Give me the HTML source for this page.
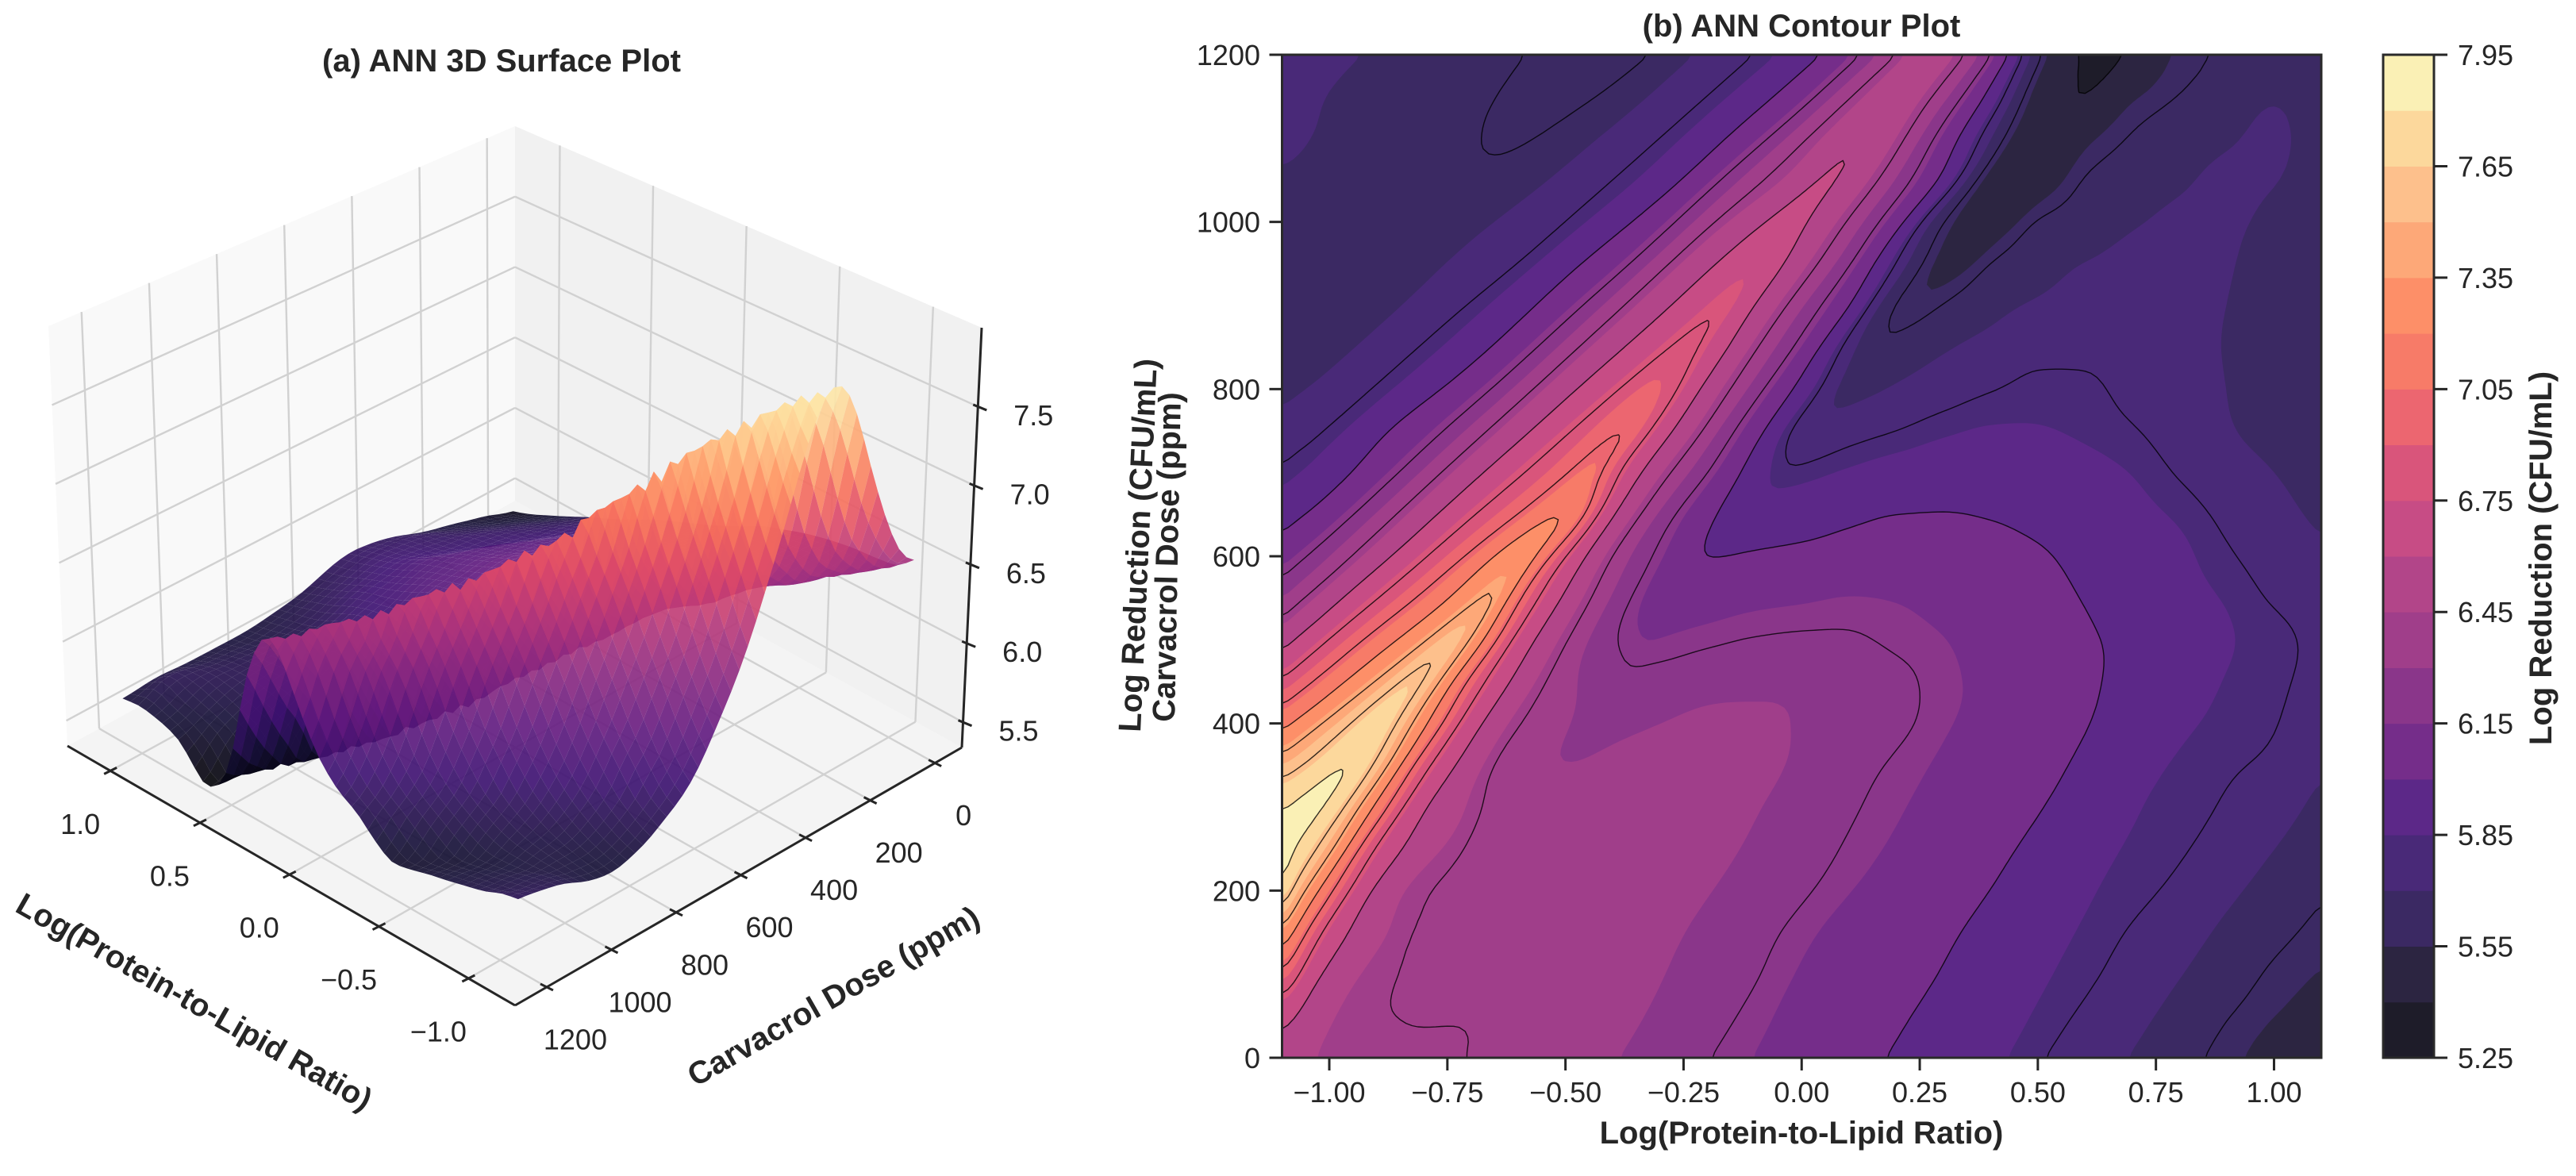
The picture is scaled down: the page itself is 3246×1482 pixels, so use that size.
<!DOCTYPE html>
<html lang="en">
<head>
<meta charset="utf-8">
<title>ANN surface and contour plots</title>
<style>
html,body{margin:0;padding:0;background:#fff;width:3246px;height:1482px;overflow:hidden}
svg{display:block}
text{font-family:"Liberation Sans",Arial,sans-serif;fill:#262626}
.tick{font-size:36px}
.bold{font-size:40px;font-weight:bold}
</style>
</head>
<body>
<svg id="fig" xmlns="http://www.w3.org/2000/svg" width="3246" height="1482" viewBox="0 0 3246 1482">
  <rect width="3246" height="1482" fill="#fff"/>
  <g id="panelA"></g>
  <g id="panelB"></g>
  <g id="panelC"></g>
  <text class="bold" x="632" y="90" text-anchor="middle">(a) ANN 3D Surface Plot</text>
  <text class="bold" x="2270" y="46" text-anchor="middle">(b) ANN Contour Plot</text>
  <text class="bold" text-anchor="middle" transform="translate(245,1262) rotate(29.8)" dy="14">Log(Protein-to-Lipid Ratio)</text>
  <text class="bold" text-anchor="middle" transform="translate(1050,1255) rotate(-29.7)" dy="14">Carvacrol Dose (ppm)</text>
  <text class="bold" x="2270" y="1441" text-anchor="middle">Log(Protein-to-Lipid Ratio)</text>
  <text class="bold" transform="translate(1437,923) rotate(-87.46)">Log Reduction (CFU/mL)</text>
  <text class="bold" transform="translate(1480,910) rotate(-88.9)">Carvacrol Dose (ppm)</text>
  <text class="bold" transform="translate(3215,939) rotate(-90)">Log Reduction (CFU/mL)</text>
</svg>
<script>
// ---------- data ----------
const ratioValues = [-1.1,-1.0,-0.9,-0.8,-0.7,-0.6,-0.5,-0.4,-0.3,-0.2,-0.1,0,0.1,0.2,0.3,0.4,0.5,0.6,0.7,0.8,0.9,1.0,1.1];
const doseValues = [0,50,100,150,200,250,300,350,400,450,500,550,600,650,700,750,800,850,900,950,1000,1050,1100,1150,1200];
const logReduction = [
[6.50,6.44,6.43,6.42,6.40,6.375,6.345,6.305,6.27,6.205,6.15,6.09,6.04,5.99,5.94,5.875,5.81,5.75,5.695,5.63,5.565,5.50,5.45],
[6.66,6.46,6.405,6.39,6.395,6.385,6.36,6.33,6.285,6.24,6.175,6.115,6.065,6.015,5.965,5.90,5.84,5.785,5.73,5.665,5.605,5.555,5.505],
[6.97,6.55,6.42,6.39,6.39,6.39,6.37,6.345,6.305,6.26,6.21,6.14,6.085,6.04,5.995,5.925,5.865,5.82,5.76,5.705,5.645,5.585,5.545],
[7.36,6.72,6.49,6.39,6.39,6.39,6.38,6.36,6.32,6.28,6.23,6.17,6.11,6.07,6.02,5.96,5.89,5.84,5.79,5.74,5.68,5.625,5.575],
[7.77,7.05,6.56,6.40,6.385,6.39,6.385,6.37,6.34,6.305,6.26,6.215,6.155,6.10,6.05,6.00,5.93,5.86,5.825,5.78,5.72,5.665,5.61],
[7.93,7.46,6.77,6.515,6.39,6.35,6.355,6.385,6.365,6.335,6.285,6.24,6.19,6.135,6.08,6.03,5.97,5.89,5.84,5.81,5.755,5.70,5.635],
[7.79,7.76,7.15,6.61,6.44,6.33,6.33,6.36,6.375,6.36,6.305,6.27,6.215,6.16,6.115,6.065,6.01,5.93,5.855,5.835,5.79,5.745,5.67],
[7.50,7.73,7.57,6.86,6.51,6.32,6.30,6.32,6.345,6.35,6.33,6.285,6.235,6.185,6.135,6.08,6.03,5.98,5.885,5.84,5.81,5.785,5.715],
[7.13,7.45,7.69,7.25,6.68,6.41,6.31,6.28,6.30,6.32,6.32,6.29,6.255,6.225,6.165,6.10,6.05,6.01,5.92,5.865,5.835,5.805,5.75],
[6.82,7.10,7.41,7.60,6.93,6.55,6.33,6.245,6.24,6.27,6.28,6.28,6.265,6.23,6.17,6.125,6.07,6.02,5.96,5.89,5.845,5.815,5.77],
[6.52,6.81,7.08,7.37,7.39,6.73,6.41,6.21,6.15,6.18,6.205,6.215,6.21,6.18,6.155,6.105,6.055,6.015,5.975,5.915,5.86,5.825,5.78],
[6.29,6.53,6.79,7.04,7.33,7.02,6.57,6.29,6.10,6.10,6.125,6.14,6.16,6.15,6.115,6.08,6.04,5.995,5.935,5.88,5.845,5.79,5.76],
[6.10,6.30,6.52,6.78,7.04,7.31,6.78,6.39,6.17,6.00,6.015,6.035,6.055,6.07,6.07,6.06,6.025,5.96,5.91,5.87,5.81,5.76,5.72],
[5.92,6.09,6.31,6.53,6.78,7.00,7.17,6.62,6.28,6.04,5.905,5.93,5.975,6.005,6.01,5.99,5.95,5.90,5.875,5.84,5.78,5.73,5.68],
[5.81,5.92,6.10,6.32,6.54,6.77,6.98,6.84,6.46,6.21,5.93,5.82,5.86,5.895,5.91,5.915,5.90,5.88,5.85,5.79,5.735,5.70,5.66],
[5.74,5.81,5.97,6.12,6.33,6.54,6.77,6.99,6.70,6.37,6.07,5.74,5.765,5.80,5.84,5.86,5.855,5.835,5.805,5.755,5.705,5.675,5.645],
[5.67,5.73,5.81,5.94,6.11,6.33,6.55,6.76,6.91,6.54,6.26,5.95,5.675,5.71,5.755,5.795,5.82,5.815,5.775,5.74,5.70,5.66,5.63],
[5.63,5.67,5.73,5.81,5.93,6.11,6.34,6.55,6.75,6.74,6.42,6.15,5.74,5.63,5.69,5.73,5.775,5.78,5.76,5.725,5.695,5.65,5.625],
[5.60,5.63,5.67,5.73,5.81,5.94,6.12,6.35,6.55,6.75,6.59,6.31,6.02,5.58,5.61,5.67,5.71,5.735,5.74,5.725,5.70,5.665,5.625],
[5.61,5.63,5.65,5.68,5.73,5.80,5.95,6.115,6.36,6.56,6.73,6.49,6.22,5.80,5.52,5.61,5.66,5.705,5.72,5.72,5.705,5.67,5.625],
[5.64,5.645,5.65,5.66,5.68,5.73,5.80,5.93,6.12,6.37,6.55,6.62,6.38,6.07,5.58,5.48,5.62,5.65,5.695,5.715,5.71,5.68,5.625],
[5.69,5.675,5.64,5.625,5.62,5.66,5.725,5.80,5.91,6.13,6.37,6.50,6.55,6.30,5.98,5.50,5.46,5.61,5.65,5.69,5.72,5.705,5.63],
[5.72,5.69,5.66,5.63,5.605,5.585,5.65,5.725,5.80,5.93,6.13,6.38,6.55,6.45,6.12,5.70,5.43,5.53,5.61,5.65,5.69,5.725,5.635],
[5.74,5.695,5.67,5.645,5.62,5.585,5.57,5.625,5.725,5.80,5.93,6.12,6.39,6.52,6.33,5.95,5.505,5.405,5.545,5.605,5.64,5.695,5.625],
[5.76,5.73,5.685,5.655,5.625,5.60,5.57,5.545,5.62,5.73,5.80,5.92,6.14,6.40,6.50,6.22,5.60,5.37,5.41,5.555,5.605,5.615,5.62]
];
// ridge crest and trough floor, read row by row between the grid columns
const crestDose = [300,350,400,450,500,550,600,650,700,750,800,850,900,950,1000,1050,1100,1150,1200];
const crestRatio = [-1.05,-0.963,-0.90,-0.82,-0.74,-0.66,-0.595,-0.51,-0.45,-0.372,-0.33,-0.248,-0.165,-0.11,-0.03,0.048,0.125,0.19,0.255];
const crestValue = [7.88,7.82,7.73,7.67,7.58,7.45,7.33,7.22,7.09,7.01,6.93,6.85,6.80,6.74,6.68,6.63,6.60,6.53,6.51];
const troughDose = [350,400,450,500,550,600,650,700,750,800,850,900,950,1000,1050,1100,1150,1200];
const troughRatio = [-0.50,-0.43,-0.38,-0.32,-0.26,-0.19,-0.115,-0.03,0.03,0.10,0.17,0.25,0.33,0.40,0.47,0.53,0.60,0.64];
const troughValue = [6.30,6.275,6.23,6.14,6.09,5.995,5.90,5.81,5.73,5.665,5.61,5.565,5.51,5.47,5.44,5.415,5.40,5.36];
const bandLevels = [5.25,5.40,5.55,5.70,5.85,6.00,6.15,6.30,6.45,6.60,6.75,6.90,7.05,7.20,7.35,7.50,7.65,7.80,7.95];
const lineLevels = [5.4,5.6,5.8,6.0,6.2,6.4,6.6,6.8,7.0,7.2,7.4,7.6,7.8];
const contourXTicks = [-1.0,-0.75,-0.5,-0.25,0,0.25,0.5,0.75,1.0];
const contourXTickLabels = ["\u22121.00","\u22120.75","\u22120.50","\u22120.25","0.00","0.25","0.50","0.75","1.00"];
const contourYTicks = [0,200,400,600,800,1000,1200];
const colorbarTicks = [5.25,5.55,5.85,6.15,6.45,6.75,7.05,7.35,7.65,7.95];
const surfaceXTicks = [-1.0,-0.5,0,0.5,1.0];
const surfaceXTickLabels = ["\u22121.0","\u22120.5","0.0","0.5","1.0"];
const surfaceYTicks = [0,200,400,600,800,1000,1200];
const surfaceZTicks = [5.5,6.0,6.5,7.0,7.5];

// ---------- palettes ----------
const bandPalette = ["#1e1c29","#2c2541","#3b2963","#492978","#5c2888","#752d8a","#8a368a","#a03e8a","#b24589","#c74c85","#d9557b","#ec6670","#f77b68","#fd8f68","#fda878","#fdc08c","#fcd89c","#faf0b5"];
const magmaStops = ["#000004","#140e36","#3b0f70","#641a80","#8c2981","#b73779","#de4968","#f7705c","#fe9f6d","#fecf92","#fcf0b0"];

const NS = "http://www.w3.org/2000/svg";
function mk(parent, tag, attrs, txt){
  const el = document.createElementNS(NS, tag);
  for (const k in attrs) el.setAttribute(k, attrs[k]);
  if (txt !== undefined) el.textContent = txt;
  parent.appendChild(el);
  return el;
}

// ---------- interpolation of the value grid ----------
function cubic(p0,p1,p2,p3,t){
  return p1 + 0.5*t*(p2-p0 + t*(2*p0-5*p1+4*p2-p3 + t*(3*(p1-p2)+p3-p0)));
}
const colCount = ratioValues.length, rowCount = doseValues.length;
const yStep = doseValues[1]-doseValues[0];
function lookup(xs, ys, x){
  const n=xs.length;
  if(x<=xs[0]) return ys[0]+(x-xs[0])*(ys[1]-ys[0])/(xs[1]-xs[0]);
  if(x>=xs[n-1]) return ys[n-1]+(x-xs[n-1])*(ys[n-1]-ys[n-2])/(xs[n-1]-xs[n-2]);
  let i=0; while(xs[i+1]<x) i++;
  return ys[i]+(x-xs[i])*(ys[i+1]-ys[i])/(xs[i+1]-xs[i]);
}
// per-row monotone spline through the grid columns plus that row's crest and trough
const rowSplines = doseValues.map((dose,r)=>{
  const nodes = ratioValues.map((x,i)=>[x,logReduction[r][i]]);
  function insert(x,z){
    let k=nodes.findIndex(n=>Math.abs(n[0]-x)<0.012);
    if(k>=0){ nodes[k][1]=z; return; }
    k=nodes.findIndex(n=>n[0]>x);
    if(k>0) nodes.splice(k,0,[x,z]);
  }
  let c=crestDose.indexOf(dose); if(c>=0) insert(crestRatio[c],crestValue[c]);
  let t=troughDose.indexOf(dose); if(t>=0) insert(troughRatio[t],troughValue[t]);
  const xs=nodes.map(n=>n[0]), zs=nodes.map(n=>n[1]), n=xs.length;
  const h=[],s=[]; for(let i=0;i<n-1;i++){ h.push(xs[i+1]-xs[i]); s.push((zs[i+1]-zs[i])/h[i]); }
  const m=new Array(n).fill(0);
  m[0]=s[0]; m[n-1]=s[n-2];
  for(let i=1;i<n-1;i++){
    if(s[i-1]*s[i]>0){
      const w1=2*h[i]+h[i-1], w2=h[i]+2*h[i-1];
      m[i]=(w1+w2)/(w1/s[i-1]+w2/s[i]);
    }
  }
  return {xs:xs,zs:zs,m:m,h:h,n:n};
});
function rowValue(r, x){
  r = Math.max(0, Math.min(rowCount-1, r));
  const sp=rowSplines[r];
  if(x<=sp.xs[0]) return sp.zs[0];
  if(x>=sp.xs[sp.n-1]) return sp.zs[sp.n-1];
  let i=0; while(sp.xs[i+1]<x) i++;
  const t=(x-sp.xs[i])/sp.h[i], t2=t*t, t3=t2*t;
  return (2*t3-3*t2+1)*sp.zs[i]+(t3-2*t2+t)*sp.h[i]*sp.m[i]+(-2*t3+3*t2)*sp.zs[i+1]+(t3-t2)*sp.h[i]*sp.m[i+1];
}
function smooth(t){ t = Math.max(0,Math.min(1,t)); return t*t*(3-2*t); }
function leanAt(x,y){
  // how far features slide in x per grid row: they follow the diagonal ridge
  const d=x-lookup(crestDose,crestRatio,y);
  let lean=0.1+(0.0575-0.1)*smooth((d+0.08)/0.16);
  lean*=smooth((x-ratioValues[0])/0.1)*(1-smooth((x-0.7)/0.3));
  const right=smooth((x-lookup(troughDose,troughRatio,y))/0.15)*smooth((y-400)/100);
  return lean*(1-right);
}
function sampleZ(x, y){
  const lean=leanAt(x,y);
  const v = (y-doseValues[0])/yStep;
  const r = Math.min(rowCount-2, Math.floor(v)), t = v-r;
  const p = k => rowValue(k, x + (k-v)*lean);
  const a = r>0 ? p(r-1) : p(r), b = p(r), c = p(r+1), d = r<rowCount-2 ? p(r+2) : p(r+1);
  const z = cubic(a,b,c,d,t);
  return Math.max(Math.min(b,c)-0.04, Math.min(Math.max(b,c)+0.04, z));
}
function sampleAlong(x,y){
  // average along the local ridge direction to even out reading noise
  const lean=leanAt(x,y)/yStep, wts=[1,2,3,2,1];
  let s=0,w=0;
  for(let k=-2;k<=2;k++){
    const dy=k*16, yy=y+dy;
    if(yy<doseValues[0]||yy>doseValues[rowCount-1]) continue;
    s+=wts[k+2]*sampleZ(x+dy*lean,yy); w+=wts[k+2];
  }
  return s/w;
}
const xMin=ratioValues[0], xMax=ratioValues[colCount-1], yMin=doseValues[0], yMax=doseValues[rowCount-1];
const fineCols=177, fineRows=193;
const fine=(function(){
  let g=new Float64Array(fineCols*fineRows);
  for(let j=0;j<fineRows;j++) for(let i=0;i<fineCols;i++){
    g[j*fineCols+i]=sampleAlong(xMin+(xMax-xMin)*i/(fineCols-1), yMin+(yMax-yMin)*j/(fineRows-1));
  }
  for(let pass=0;pass<2;pass++){
    const o=new Float64Array(fineCols*fineRows);
    for(let j=0;j<fineRows;j++) for(let i=0;i<fineCols;i++){
      let s=0,w=0;
      for(let dj=-1;dj<=1;dj++) for(let di=-1;di<=1;di++){
        const ii=i+di, jj=j+dj;
        if(ii<0||jj<0||ii>=fineCols||jj>=fineRows) continue;
        const q=(di===0?2:1)*(dj===0?2:1);
        s+=q*g[jj*fineCols+ii]; w+=q;
      }
      o[j*fineCols+i]=s/w;
    }
    g=o;
  }
  return g;
})();
function zAt(x,y){
  const u=Math.max(0,Math.min(fineCols-1.001,(x-xMin)/(xMax-xMin)*(fineCols-1)));
  const v=Math.max(0,Math.min(fineRows-1.001,(y-yMin)/(yMax-yMin)*(fineRows-1)));
  const i=Math.floor(u),j=Math.floor(v),a=u-i,b=v-j;
  return (1-a)*(1-b)*fine[j*fineCols+i]+a*(1-b)*fine[j*fineCols+i+1]+a*b*fine[(j+1)*fineCols+i+1]+(1-a)*b*fine[(j+1)*fineCols+i];
}

// ---------- contour tracing ----------
function traceContours(vals, cols, rows, level, xOf, yOf){
  const adj = new Map(), pts = new Map();
  const id = (i,j,k) => 2*(j*cols+i)+k;
  function pt(e, i, j, k){
    if (pts.has(e)) return;
    const a = vals[j*cols+i];
    const b = k===0 ? vals[j*cols+i+1] : vals[(j+1)*cols+i];
    const t = (level-a)/(b-a);
    if (k===0) pts.set(e,[xOf(i)+(xOf(i+1)-xOf(i))*t, yOf(j)]);
    else pts.set(e,[xOf(i), yOf(j)+(yOf(j+1)-yOf(j))*t]);
  }
  function link(p,q){
    if(!adj.has(p)) adj.set(p,[]);
    if(!adj.has(q)) adj.set(q,[]);
    adj.get(p).push(q); adj.get(q).push(p);
  }
  for (let j=0;j<rows-1;j++) for (let i=0;i<cols-1;i++){
    const a=vals[j*cols+i], b=vals[j*cols+i+1], c=vals[(j+1)*cols+i+1], d=vals[(j+1)*cols+i];
    const n=(a>=level?1:0)|(b>=level?2:0)|(c>=level?4:0)|(d>=level?8:0);
    if(n===0||n===15) continue;
    const T=id(i,j,0), R=id(i+1,j,1), B=id(i,j+1,0), L=id(i,j,1);
    if((n&1)!==((n&2)>>1)) pt(T,i,j,0);
    if(((n&2)>>1)!==((n&4)>>2)) pt(R,i+1,j,1);
    if(((n&8)>>3)!==((n&4)>>2)) pt(B,i,j+1,0);
    if((n&1)!==((n&8)>>3)) pt(L,i,j,1);
    switch(n){
      case 1: case 14: link(L,T); break;
      case 2: case 13: link(T,R); break;
      case 3: case 12: link(L,R); break;
      case 4: case 11: link(R,B); break;
      case 6: case 9: link(T,B); break;
      case 7: case 8: link(L,B); break;
      case 5: if((a+b+c+d)/4>=level){link(L,B);link(T,R);}else{link(L,T);link(R,B);} break;
      case 10: if((a+b+c+d)/4>=level){link(L,T);link(R,B);}else{link(T,R);link(L,B);} break;
    }
  }
  const used=new Set(); let out="";
  function walk(start){
    let cur=start, prev=-1, s="M"+pts.get(cur)[0].toFixed(1)+" "+pts.get(cur)[1].toFixed(1);
    used.add(cur);
    while(true){
      const nb=adj.get(cur);
      let nx=-1;
      for(const q of nb){ if(q!==prev && !used.has(q)){nx=q;break;} }
      if(nx<0){
        if(nb.indexOf(start)>=0 && prev!==start) s+="Z";
        break;
      }
      s+="L"+pts.get(nx)[0].toFixed(1)+" "+pts.get(nx)[1].toFixed(1);
      used.add(nx); prev=cur; cur=nx;
    }
    out+=s;
  }
  for(const [k,v] of adj){ if(v.length===1 && !used.has(k)) walk(k); }
  for(const [k] of adj){ if(!used.has(k)) walk(k); }
  return out;
}

// ---------- panel (b): contour plot ----------
const plotLeft=1615.5, plotRight=2925, plotTop=69, plotBottom=1333;
function cx(x){ return plotLeft+(x-xMin)/(xMax-xMin)*(plotRight-plotLeft); }
function cy(y){ return plotBottom-(y-yMin)/(yMax-yMin)*(plotBottom-plotTop); }

(function(){
  const g=document.getElementById("panelB");
  const nx=fineCols, ny=fineRows;
  const hx=(plotRight-plotLeft)/(nx-1), hy=(plotBottom-plotTop)/(ny-1);
  const PW=nx+2, PH=ny+2;
  const padded=new Float64Array(PW*PH).fill(-1e9);
  for(let j=0;j<ny;j++) for(let i=0;i<nx;i++) padded[(j+1)*PW+i+1]=fine[j*nx+i];
  const pxp=i=>plotLeft+(i-1)*hx, pyp=j=>plotBottom-(j-1)*hy;
  const base=mk(g,"rect",{x:plotLeft,y:plotTop,width:plotRight-plotLeft,height:plotBottom-plotTop,fill:bandPalette[0]});
  
  
  for(let b=1;b<bandPalette.length;b++){
    const d=traceContours(padded,PW,PH,bandLevels[b],pxp,pyp);
    if(!d) continue;
    const p=mk(g,"path",{d:d,fill:bandPalette[b],"fill-rule":"evenodd",stroke:"none"});
    
    
  }
  const px=i=>plotLeft+i*hx, py=j=>plotBottom-j*hy;
  for(const lv of lineLevels){
    const d=traceContours(fine,nx,ny,lv,px,py);
    if(!d) continue;
    const p=mk(g,"path",{d:d,fill:"none",stroke:"#000","stroke-opacity":"0.8","stroke-width":"1.4","stroke-linejoin":"round"});
    
    
  }
  const frame=mk(g,"rect",{x:plotLeft,y:plotTop,width:plotRight-plotLeft,height:plotBottom-plotTop,fill:"none",stroke:"#2a2a2a","stroke-width":"3"});
  
  
  contourXTicks.forEach((v,i)=>{
    const t=mk(g,"line",{x1:cx(v),x2:cx(v),y1:plotBottom,y2:plotBottom+16,stroke:"#262626","stroke-width":"3"});
    
    
    const l=mk(g,"text",{class:"tick",x:cx(v),y:1389,"text-anchor":"middle"},contourXTickLabels[i]);
    
    
  });
  contourYTicks.forEach(v=>{
    const t=mk(g,"line",{x1:plotLeft-16,x2:plotLeft,y1:cy(v),y2:cy(v),stroke:"#262626","stroke-width":"3"});
    
    
    const l=mk(g,"text",{class:"tick",x:1588,y:cy(v)+13,"text-anchor":"end"},String(v));
    
    
  });
})();

// ---------- colorbar ----------
(function(){
  const g=document.getElementById("panelC");
  const left=3003,right=3067,top=69,bottom=1333;
  const lo=bandLevels[0], hi=bandLevels[bandLevels.length-1];
  const by=v=>bottom-(v-lo)/(hi-lo)*(bottom-top);
  bandPalette.forEach((c,i)=>{
    const r=mk(g,"rect",{x:left,y:by(bandLevels[i+1]),width:right-left,height:by(bandLevels[i])-by(bandLevels[i+1])+0.5,fill:c});
    
    
  });
  const f=mk(g,"rect",{x:left,y:top,width:right-left,height:bottom-top,fill:"none",stroke:"#2a2a2a","stroke-width":"3"});
  
  
  colorbarTicks.forEach(v=>{
    const t=mk(g,"line",{x1:right,x2:right+17,y1:by(v),y2:by(v),stroke:"#262626","stroke-width":"3"});
    
    
    const l=mk(g,"text",{class:"tick",x:3097,y:by(v)+13},v.toFixed(2));
    
    
  });
})();

// ---------- panel (a): 3D surface ----------
const floorL=[85,940], floorF=[649,1267], floorR=[1212,942], floorB=[649,631];
const topL=[61,411], topF=[649,680], topR=[1237,413], topB=[649,159];
const axisXHi=1.24, axisXLo=-1.26, axisYHi=1298, axisYLo=-83, axisZLo=5.34, axisZHi=8.0;
function ax(x){ return (axisXHi-x)/(axisXHi-axisXLo); }
function by3(y){ return (axisYHi-y)/(axisYHi-axisYLo); }
function hz(z){ return (z-axisZLo)/(axisZHi-axisZLo); }
function quad(c,a,b,k){
  return (1-a)*(1-b)*c[0][k]+a*(1-b)*c[1][k]+a*b*c[2][k]+(1-a)*b*c[3][k];
}
const floorCorners=[floorL,floorF,floorR,floorB], topCorners=[topL,topF,topR,topB];
function project(a,b,h){
  const fx=quad(floorCorners,a,b,0), fy=quad(floorCorners,a,b,1);
  const tx=quad(topCorners,a,b,0), ty=quad(topCorners,a,b,1);
  return [fx+(tx-fx)*h, fy+(ty-fy)*h];
}
function pts(list){ return list.map(p=>p[0].toFixed(1)+","+p[1].toFixed(1)).join(" "); }
function hexRgb(h){ return [parseInt(h.slice(1,3),16),parseInt(h.slice(3,5),16),parseInt(h.slice(5,7),16)]; }
const magmaRgb=magmaStops.map(hexRgb);
function magma(t){
  t=Math.max(0,Math.min(1,t))*(magmaRgb.length-1);
  const i=Math.min(magmaRgb.length-2,Math.floor(t)), f=t-i;
  const a=magmaRgb[i], b=magmaRgb[i+1];
  return "rgb("+Math.round(a[0]+(b[0]-a[0])*f)+","+Math.round(a[1]+(b[1]-a[1])*f)+","+Math.round(a[2]+(b[2]-a[2])*f)+")";
}

(function(){
  const g=document.getElementById("panelA");
  const grid="#d1d1d1", gw=2.4, ink="#262626";
  const wallL=mk(g,"polygon",{points:pts([floorL,floorB,topB,topL]),fill:"#f9f9f9"});
  
  
  const wallR=mk(g,"polygon",{points:pts([floorB,floorR,topR,topB]),fill:"#f1f1f1"});
  
  
  const floor=mk(g,"polygon",{points:pts([floorL,floorF,floorR,floorB]),fill:"#f4f4f4"});
  
  

  function seg(p,q,col,w,name){
    const l=mk(g,"line",{x1:p[0],y1:p[1],x2:q[0],y2:q[1],stroke:col,"stroke-width":w});
    
    
    return l;
  }
  surfaceXTicks.forEach(v=>{
    const a=ax(v);
    seg(project(a,0,0),project(a,1,0),grid,gw,'floor-gridline-x');
    seg(project(a,1,0),project(a,1,1),grid,gw,'wall-gridline-x');
  });
  surfaceYTicks.forEach(v=>{
    const b=by3(v);
    seg(project(0,b,0),project(1,b,0),grid,gw,'floor-gridline-y');
    seg(project(0,b,0),project(0,b,1),grid,gw,'wall-gridline-y');
  });
  surfaceZTicks.forEach(v=>{
    const h=hz(v);
    seg(project(0,0,h),project(0,1,h),grid,gw,'wall-gridline-z');
    seg(project(0,1,h),project(1,1,h),grid,gw,'wall-gridline-z');
  });
  seg(floorL,floorF,ink,3,'surface-x-axis-line');
  seg(floorF,floorR,ink,3,'surface-y-axis-line');
  seg(floorR,topR,ink,3,'surface-z-axis-line');

  surfaceXTicks.forEach((v,i)=>{
    const p=project(ax(v),0,0);
    seg([p[0]-8,p[1]+4],[p[0]+8,p[1]-4],ink,3,'surface-x-tick');
    const l=mk(g,"text",{class:"tick",x:p[0]-38,y:p[1]+79.5,"text-anchor":"middle"},surfaceXTickLabels[i]);
    
    
  });
  surfaceYTicks.forEach(v=>{
    const p=project(1,by3(v),0);
    seg([p[0]-8,p[1]-4],[p[0]+8,p[1]+4],ink,3,'surface-y-tick');
    const l=mk(g,"text",{class:"tick",x:p[0]+36,y:p[1]+78.5,"text-anchor":"middle"},String(v));
    
    
  });
  surfaceZTicks.forEach(v=>{
    const p=project(1,1,hz(v));
    seg([p[0]-6,p[1]-2.5],[p[0]+11,p[1]+4.5],ink,3,'surface-z-tick');
    const l=mk(g,"text",{class:"tick",x:p[0]+70,y:p[1]+23.5,"text-anchor":"middle"},v.toFixed(1));
    
    
  });

  // mesh: every facet is coloured from the value grid
  const N=50;
  let minZ=Infinity, maxZ=-Infinity;
  for(let k=0;k<fine.length;k++){ if(fine[k]<minZ) minZ=fine[k]; if(fine[k]>maxZ) maxZ=fine[k]; }
  const verts=[];
  for(let j=0;j<=N;j++){
    const row=[];
    for(let i=0;i<=N;i++){
      const x=xMin+(xMax-xMin)*i/N, y=yMin+(yMax-yMin)*j/N, z=zAt(x,y);
      const a=ax(x), b=by3(y);
      row.push({z:z,a:a,b:b,p:project(a,b,hz(z))});
    }
    verts.push(row);
  }
  const cells=[];
  for(let j=0;j<N;j++) for(let i=0;i<N;i++){
    const q=[verts[j][i],verts[j][i+1],verts[j+1][i+1],verts[j+1][i]];
    const z=(q[0].z+q[1].z+q[2].z+q[3].z)/4;
    const depth=(q[0].a+q[2].a)/2-(q[0].b+q[2].b)/2;
    cells.push({q:q,z:z,depth:depth});
  }
  cells.sort((m,n)=>m.depth-n.depth);
  const sg=mk(g,"g",{});
  
  
  cells.forEach(c=>{
    const pg=mk(sg,"polygon",{points:pts(c.q.map(v=>v.p)),fill:magma((c.z-minZ)/(maxZ-minZ)),"fill-opacity":"0.9"});
    
    
  });
})();
</script>
</body>
</html>
